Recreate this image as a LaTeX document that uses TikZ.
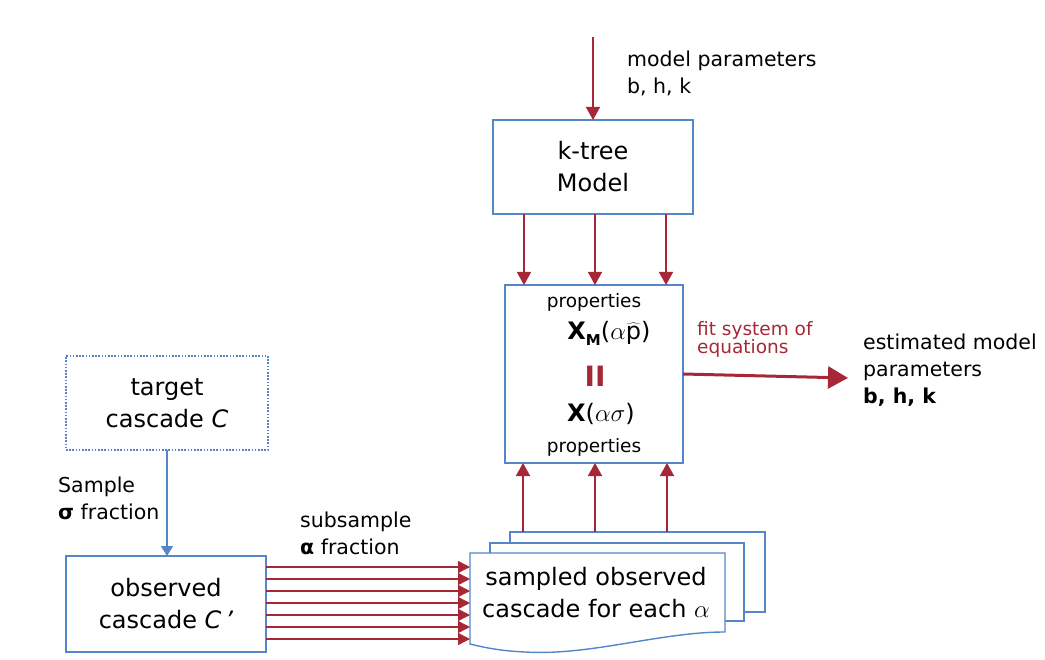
\documentclass[tikz,border=0pt]{standalone}
\usepackage{fontspec}
\setmainfont{DejaVu Sans}
\usetikzlibrary{arrows.meta,calc}
\definecolor{bbl}{RGB}{84,134,200}
\definecolor{rd}{RGB}{166,40,55}
\tikzset{
  bluebox/.style={draw=bbl, line width=1.4pt, fill=white, inner sep=0pt, outer sep=0pt, align=center},
  redarr/.style={draw=rd, line width=1.6pt, -{Triangle[length=13pt,width=14pt]}},
  fanarr/.style={draw=rd, line width=1.4pt, -{Triangle[length=12pt,width=12pt]}},
  bigarr/.style={draw=rd, line width=3pt, -{Triangle[length=20pt,width=22pt]}},
  bluearr/.style={draw=bbl, line width=1.6pt, -{Triangle[length=10pt,width=12pt]}},
  bigtxt/.style={font=\fontsize{24}{32}\selectfont},
  medtxt/.style={font=\fontsize{20.5}{27}\selectfont},
  smltxt/.style={font=\fontsize{18.5}{22}\selectfont},
  lbl/.style={align=left, inner sep=0pt, anchor=west},
}
\begin{document}
\begin{tikzpicture}[x=1pt,y=-1pt]
\useasboundingbox (0,0) rectangle (1045,660);

% k-tree model
\node[bluebox, bigtxt, minimum width=200pt, minimum height=94pt] (model) at (593,167) {k-tree\\Model};
\coordinate (mptop) at (593,37);
\draw[redarr] (mptop) -- (model.north);
\node[lbl, medtxt] (mplbl) at (627,73.5) {model parameters\\b, h, k};

% properties box
\node[bluebox, minimum width=178pt, minimum height=178pt] (props) at (594,374) {};
\node[smltxt, inner sep=0pt] (ptop) at (594,302) {properties};
\node[font=\fontsize{24}{28}\selectfont, inner sep=0pt] (xm) at (609,333)
  {{\bfseries X}\raisebox{-0.45ex}{\fontsize{15}{15}\selectfont\bfseries M}(\ensuremath{\alpha\widehat{\mbox{p}}})};
\node[font=\fontsize{28}{30}\selectfont\bfseries, text=rd, inner sep=0pt] (eq) at (595,376) {II};
\node[font=\fontsize{24}{28}\selectfont, inner sep=0pt] (xs) at (601,414)
  {{\bfseries X}(\ensuremath{\alpha\sigma})};
\node[smltxt, inner sep=0pt] (pbot) at (594,447) {properties};

% model -> props arrows
\foreach \d [count=\i] in {-69,2,73}{
  \coordinate (ms\i) at ([xshift=\d pt]model.south);
  \draw[redarr] (ms\i) -- (ms\i |- props.north);
}

% fit arrow
\coordinate (estend) at (848,378);
\draw[bigarr] (props.east) -- (estend);
\node[lbl, text=rd, font=\fontsize{18.5}{18}\selectfont] (fitlbl) at (697,339) {fit system of\\equations};
\node[lbl, medtxt] (estlbl) at (863,370) {estimated model\\parameters\\\textbf{b, h, k}};

% target cascade
\node[bluebox, bigtxt, dash pattern=on 1.6pt off 1.6pt, minimum width=202pt, minimum height=94pt] (target) at (167,403) {target\\cascade \textit{C}};
% observed cascade
\node[bluebox, bigtxt, minimum width=200pt, minimum height=96pt] (obs) at (166,604) {observed\\cascade \textit{C}\,\textit{'}};
\draw[bluearr] (target.south) -- (target.south |- obs.north);
\node[lbl, medtxt] (samplbl) at (58,498) {Sample\\\textbf{σ} fraction};

% stacked documents
\node[bluebox, minimum width=255pt, minimum height=80pt] (back) at (637.5,572) {};
\node[bluebox, minimum width=254pt, minimum height=78pt] (mid) at (617,582) {};
\node[inner sep=0pt, outer sep=0pt, minimum width=255pt, minimum height=91pt] (front) at (597.5,598.5) {};
\draw[draw=bbl, line width=1.4pt, fill=white]
  (front.north west) -- (front.north east) -- ([yshift=12pt]front.south east)
  .. controls ([xshift=-65pt,yshift=12pt]front.south east) and ([xshift=120pt,yshift=-12pt]front.south west) .. ([xshift=55pt,yshift=-8pt]front.south west)
  .. controls ([xshift=30pt,yshift=-7pt]front.south west) and ([xshift=12pt,yshift=-3pt]front.south west) .. (front.south west)
  -- cycle;
\node[bigtxt, align=center, inner sep=0pt] (fronttxt) at (596,593) {sampled observed\\cascade for each \ensuremath{\alpha}};

% back -> props arrows
\foreach \xx [count=\i] in {523,595,667}{
  \coordinate (bs\i) at (\xx,532);
  \draw[redarr] (bs\i) -- (bs\i |- props.south);
}

% fan of arrows
\foreach \i in {0,...,6}{
  \coordinate (fa\i) at ([yshift={(\i-3)*12+1}]obs.east);
  \draw[fanarr] (fa\i) -- (fa\i -| front.west);
}
\node[lbl, medtxt] (sublbl) at (300,533.5) {subsample\\\textbf{α} fraction};
\end{tikzpicture}
\end{document}
